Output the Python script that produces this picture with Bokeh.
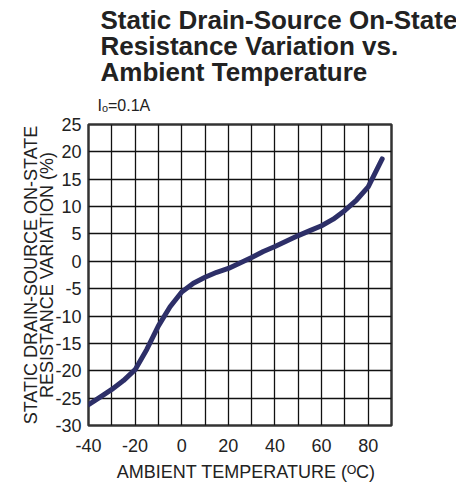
from bokeh.plotting import figure
from bokeh.models import Range1d, FixedTicker, Title, LinearAxis
from bokeh.embed import file_html
from bokeh.resources import INLINE

# ---- data ----
temperature = [-40, -35, -30, -25, -20, -15, -10, -5, 0, 5, 10, 15, 20, 25,
               30, 35, 40, 45, 50, 55, 60, 65, 70, 75, 80, 86]
variation = [-26.2, -24.8, -23.4, -21.8, -19.8, -16.1, -11.8, -8.3, -5.6, -4.0,
             -2.9, -2.0, -1.3, -0.3, 0.7, 1.8, 2.7, 3.7, 4.7, 5.6, 6.5, 7.7,
             9.3, 11.2, 13.6, 18.7]
x_ticks = [-40, -20, 0, 20, 40, 60, 80]
x_grid = [-40, -30, -20, -10, 0, 10, 20, 30, 40, 50, 60, 70, 80, 90]
y_ticks = [-30, -25, -20, -15, -10, -5, 0, 5, 10, 15, 20, 25]
title_lines = ["Static Drain-Source On-State", "Resistance Variation vs.", "Ambient Temperature"]
subtitle = "I\u2092=0.1A"
ylabel = "STATIC DRAIN-SOURCE ON-STATE\nRESISTANCE VARIATION (%)"
xlabel = "\u2002\u2009AMBIENT TEMPERATURE (\u1D3CC)"

FONT = "Liberation Sans"
TXT = "#222222"

p = figure(frame_width=303, frame_height=301, output_backend="svg", toolbar_location=None,
           x_range=Range1d(-40, 90), y_range=Range1d(-30, 25),
           min_border_left=0, min_border_right=65, min_border_top=0, min_border_bottom=0)
p.background_fill_color = "white"
p.border_fill_color = "white"
p.outline_line_color = "#333333"
p.outline_line_width = 2.5

def style_axis(ax):
    ax.axis_line_color = None
    ax.major_tick_line_color = None
    ax.minor_tick_line_color = None
    ax.major_tick_out = 0
    ax.major_tick_in = 0
    ax.minor_tick_out = 0
    ax.minor_tick_in = 0
    ax.major_label_text_font = FONT
    ax.major_label_text_font_size = "18px"
    ax.major_label_text_color = TXT
    ax.axis_label_text_font = FONT
    ax.axis_label_text_font_size = "18px"
    ax.axis_label_text_font_style = "normal"
    ax.axis_label_text_color = TXT

for ax in (p.xaxis[0], p.yaxis[0]):
    style_axis(ax)
p.xaxis.ticker = FixedTicker(ticks=x_ticks)
p.yaxis.ticker = FixedTicker(ticks=y_ticks)
p.xaxis.major_label_overrides = {t: str(t) for t in x_ticks}
p.yaxis.major_label_overrides = {t: str(t) for t in y_ticks}
p.xaxis.major_label_standoff = 13
p.yaxis.major_label_standoff = 7
p.xaxis.axis_label = xlabel
p.yaxis.axis_label = ylabel
p.xaxis.axis_label_standoff = 7
p.yaxis.axis_label_standoff = -5
p.yaxis.axis_label_text_line_height = 0.81

# empty outer axis: only blank space to the left of the y label
pad = LinearAxis(ticker=FixedTicker(ticks=[]), axis_label="\u2002",
                 axis_label_standoff=0, major_label_standoff=0)
style_axis(pad)
pad.axis_label_text_font_size = "13px"
p.add_layout(pad, "left")

p.xgrid.ticker = FixedTicker(ticks=x_grid)
p.ygrid.ticker = FixedTicker(ticks=y_ticks)
for g in (p.xgrid[0], p.ygrid[0]):
    g.grid_line_color = "#111111"
    g.grid_line_width = 1.3

p.line(temperature, variation, line_color="#2d2f68", line_width=5,
       line_cap="round", line_join="round")

# titles: the first one added sits closest to the frame
p.add_layout(Title(text=subtitle, align="left", offset=9, standoff=21,
                   text_font=FONT, text_font_size="16px", text_font_style="normal",
                   text_color=TXT), "above")
for t, so in zip(reversed(title_lines), [-5, -7, -5]):
    p.add_layout(Title(text=t, align="left", offset=12, standoff=so,
                       text_font=FONT, text_font_size="26px", text_font_style="bold",
                       text_color=TXT), "above")
# thin blank strip above the title
p.add_layout(Title(text="\u2002", text_font_size="3px", standoff=0), "above")

open("out.html", "w").write(file_html(p, INLINE))
